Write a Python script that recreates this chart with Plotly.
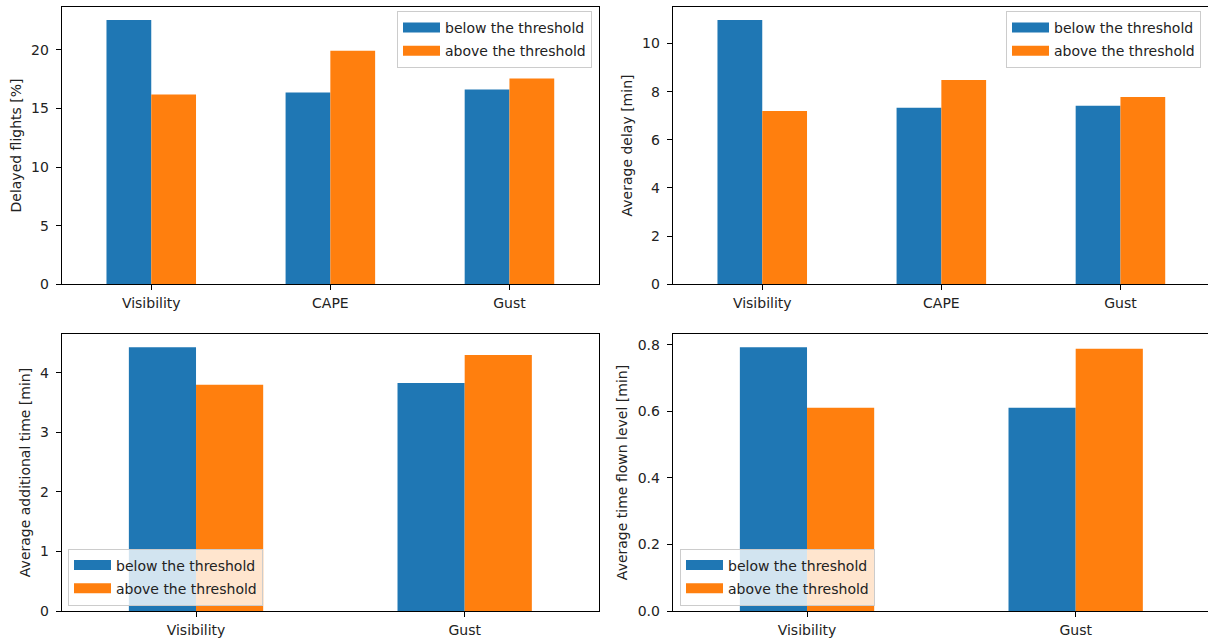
import plotly.graph_objects as go

# ---- data ----
cats_top = ["Visibility", "CAPE", "Gust"]
cats_bottom = ["Visibility", "Gust"]
series_names = ["below the threshold", "above the threshold"]

delayed_below = [22.55, 16.35, 16.62]
delayed_above = [16.18, 19.92, 17.55]

avg_delay_below = [10.98, 7.33, 7.42]
avg_delay_above = [7.20, 8.48, 7.78]

add_time_below = [4.43, 3.83]
add_time_above = [3.80, 4.30]

level_below = [0.793, 0.611]
level_above = [0.611, 0.788]

y_titles = ["Delayed flights [%]", "Average delay [min]",
            "Average additional time [min]", "Average time flown level [min]"]
y_dticks = [5, 2, 1, 0.2]

colors = ["#1f77b4", "#ff7f0e"]
FONT = "DejaVu Sans"
TXT = "#222222"
W, H = 1208, 642

panels = [
    (cats_top, delayed_below, delayed_above),
    (cats_top, avg_delay_below, avg_delay_above),
    (cats_bottom, add_time_below, add_time_above),
    (cats_bottom, level_below, level_above),
]

# layout in pixels
left_l, left_r = 61.7, 599.0
right_l, right_r = 672.7, 1208.0
top_t, top_b = 6.7, 284.3
bot_t, bot_b = 334.0, 611.0
ref_w = left_r - left_l

domains = [
    ((left_l, left_r), (top_t, top_b)),
    ((right_l, right_r), (top_t, top_b)),
    ((left_l, left_r), (bot_t, bot_b)),
    ((right_l, right_r), (bot_t, bot_b)),
]

legend_pos = [
    dict(x=592 / W, y=1 - 11 / H, xanchor="right", yanchor="top"),
    dict(x=1201 / W, y=1 - 11 / H, xanchor="right", yanchor="top"),
    dict(x=68 / W, y=(H - 605.5) / H, xanchor="left", yanchor="bottom"),
    dict(x=680 / W, y=(H - 605.5) / H, xanchor="left", yanchor="bottom"),
]

fig = go.Figure()
layout = dict(
    width=W, height=H,
    margin=dict(l=0, r=0, t=0, b=0, autoexpand=False),
    paper_bgcolor="white", plot_bgcolor="white",
    barmode="group", bargap=0.5, bargroupgap=0,
    font=dict(family=FONT, size=14, color=TXT),
    showlegend=True,
)

for i, (cats, below, above) in enumerate(panels):
    k = "" if i == 0 else str(i + 1)
    xa, ya = "x" + k, "y" + k
    leg = "legend" + k
    for j, (vals, name) in enumerate(zip([below, above], series_names)):
        fig.add_trace(go.Bar(
            x=cats, y=vals, name=name, marker=dict(color=colors[j], line=dict(width=0)),
            xaxis=xa, yaxis=ya, showlegend=False, offsetgroup=str(j),
        ))
    for j, name in enumerate(series_names):
        fig.add_trace(go.Scatter(
            x=[None], y=[None], mode="lines", name=name,
            line=dict(color=colors[j], width=10),
            xaxis=xa, yaxis=ya, legend=leg, showlegend=True, hoverinfo="skip",
            legendgroup=f"g{i}_{j}",
        ))
    (xl, xr), (yt, yb) = domains[i]
    n = len(cats)
    span = (xr - xl) * n / ref_w
    ymax = max(below + above) * 1.05
    is_right = i % 2 == 1
    layout["xaxis" + k] = dict(
        domain=[xl / W, xr / W], anchor=ya, type="category",
        range=[-0.5, -0.5 + span], showline=True, linecolor="black", linewidth=1,
        mirror=True, ticks="outside", ticklen=5, tickwidth=1, tickcolor="black",
        showgrid=False, zeroline=False, tickfont=dict(size=14, color=TXT),
        fixedrange=True, automargin=False, ticklabelstandoff=1,
    )
    layout["yaxis" + k] = dict(
        domain=[(H - yb) / H, (H - yt) / H], anchor=xa,
        range=[0, ymax], dtick=y_dticks[i], tick0=0,
        tickformat=".1f" if i == 3 else None,
        showline=True, linecolor="black", linewidth=1,
        mirror=False if is_right else True,
        ticks="outside", ticklen=5, tickwidth=1, tickcolor="black",
        showgrid=False, zeroline=False, tickfont=dict(size=14, color=TXT),
        title=dict(text=y_titles[i], font=dict(size=14, color=TXT), standoff=6),
        fixedrange=True, automargin=False, ticklabelstandoff=4,
    )
    layout[leg] = dict(
        **legend_pos[i],
        bgcolor="rgba(255,255,255,0.8)", bordercolor="#cccccc", borderwidth=1,
        font=dict(family=FONT, size=14, color=TXT),
        itemwidth=37, tracegroupgap=2,
    )

fig.update_layout(**layout)
fig.write_html(
    "out.html",
    config={"displayModeBar": False},
    post_script="document.body.style.margin='0';document.body.style.overflow='hidden';",
)
